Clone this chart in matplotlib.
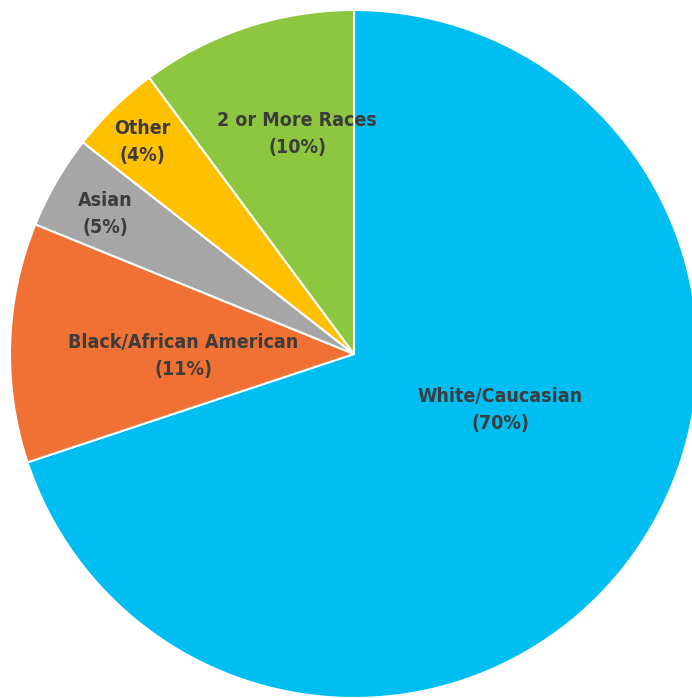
import matplotlib
matplotlib.use("Agg")
import matplotlib.pyplot as plt

labels = ["White/Caucasian", "Black/African American", "Asian", "Other", "2 or More Races"]
pct_text = ["70%", "11%", "5%", "4%", "10%"]
# wedge sizes as drawn in the picture (the printed percentages are rounded)
shares = [69.9, 11.25, 4.4, 4.3, 10.15]
colors = ["#00BDF2", "#F07133", "#A6A6A6", "#FFC000", "#8DC63F"]

# label centres in pixel coordinates of the 692x698 image
label_px = [(500, 410), (183, 356), (105, 214), (142, 142), (297, 134)]

W, H = 692, 698
cx, cy, R = 354, 354, 344

fig = plt.figure(figsize=(W / 100, H / 100), dpi=100)
ax = fig.add_axes([0, 0, 1, 1])
ax.pie(shares, colors=colors, startangle=90, counterclock=False,
       radius=1, wedgeprops=dict(edgecolor="white", linewidth=1.5))
ax.set_aspect("auto")
ax.set_xlim(-cx / R, (W - cx) / R)
ax.set_ylim(-(H - cy) / R, cy / R)
ax.axis("off")

for lab, pct, (px, py) in zip(labels, pct_text, label_px):
    ax.text((px - cx) / R, (cy - py) / R, f"{lab}\n({pct})",
            ha="center", va="center", fontsize=14, fontweight="bold",
            fontstretch="condensed", color="#3C3C3C", linespacing=1.6,
            family=["DejaVu Sans"])

fig.savefig("out.png", dpi=100)
